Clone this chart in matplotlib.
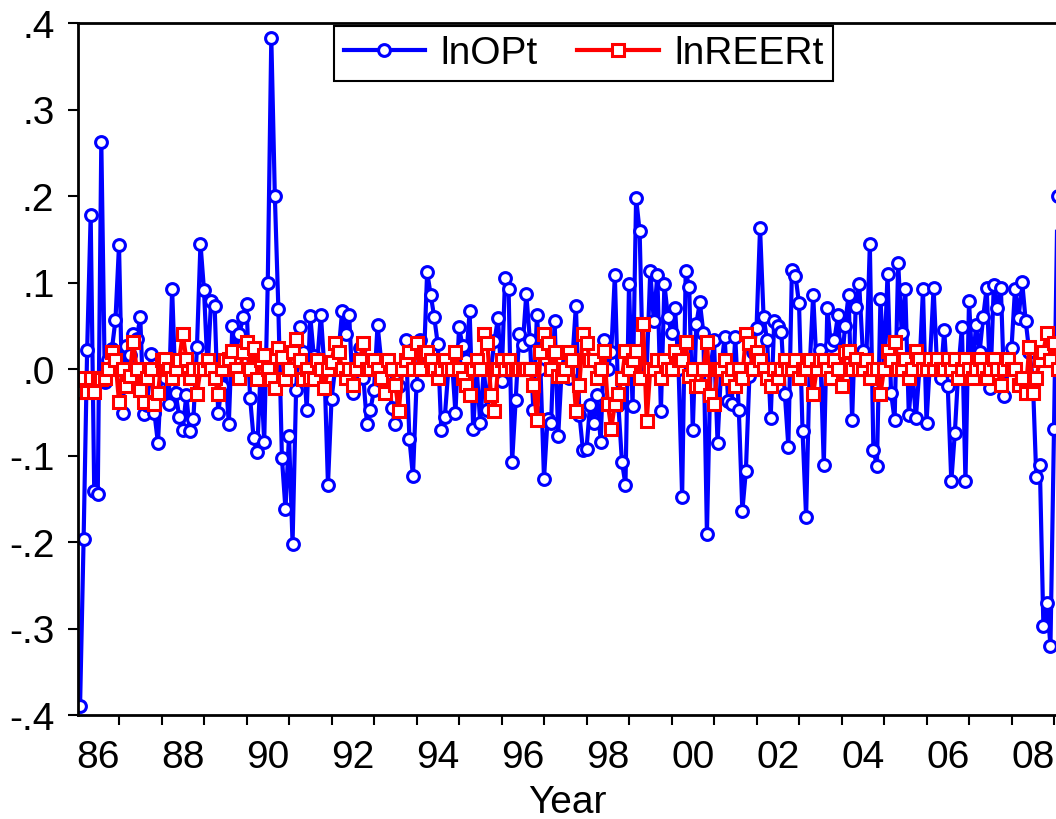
import numpy as np
import matplotlib.pyplot as plt

plt.rcParams['font.family'] = ['Liberation Sans', 'DejaVu Sans']

# Monthly log changes, first observation 1986M02
ln_op = [
  -0.39, -0.197, 0.022, 0.178, -0.141, -0.145, 0.263, -0.015, 0.01, 0.023, 0.057,
  0.143, -0.051, 0.027, 0.016, 0.04, 0.035, 0.06, -0.052, -0.042, 0.017, -0.051, -0.086,
  0.0, -0.01, -0.041, 0.093, -0.028, -0.055, -0.07, -0.03, -0.072, -0.058, 0.025, 0.145,
  0.091, 0.0, 0.079, 0.073, -0.051, -0.02, 0.0, -0.064, 0.05, 0.02, 0.04, 0.06,
  0.075, -0.033, -0.08, -0.096, 0.0, -0.084, 0.10, 0.383, 0.2, 0.069, -0.103, -0.162,
  -0.077, -0.202, -0.024, 0.049, 0.02, -0.047, 0.061, 0.015, 0.01, 0.063, 0.0, -0.134,
  -0.035, 0.0, 0.02, 0.067, 0.04, 0.062, -0.028, 0.0, 0.024, -0.01, -0.064, -0.047,
  -0.024, 0.051, 0.01, -0.01, 0.0, -0.045, -0.064, -0.02, 0.0, 0.033, -0.081, -0.124,
  -0.018, 0.033, 0.0, 0.112, 0.086, 0.06, 0.029, -0.071, -0.055, 0.0, 0.01, -0.051,
  0.048, 0.027, 0.01, 0.067, -0.069, 0.0, -0.063, 0.0, -0.047, 0.0, 0.032, 0.059,
  -0.014, 0.105, 0.093, -0.107, -0.036, 0.04, 0.028, 0.087, 0.034, -0.047, 0.063, 0.0,
  -0.127, -0.058, -0.063, 0.056, -0.078, 0.0, 0.02, -0.01, 0.01, 0.073, -0.053, -0.094,
  -0.092, -0.042, -0.063, -0.03, -0.084, 0.033, 0.0, 0.02, 0.109, -0.042, -0.107, -0.134,
  0.098, -0.043, 0.198, 0.159, -0.01, 0.0, 0.113, 0.056, 0.109, -0.049, 0.098, 0.06,
  0.042, 0.071, 0.0, -0.148, 0.113, 0.095, -0.07, 0.052, 0.077, 0.042, -0.191, 0.0,
  0.033, -0.085, 0.0, 0.037, -0.037, -0.04, 0.037, -0.047, -0.164, -0.118, -0.008, 0.02,
  0.047, 0.163, 0.06, 0.033, -0.057, 0.055, 0.05, 0.043, -0.029, -0.09, 0.115, 0.108,
  0.076, -0.072, -0.171, 0.0, 0.086, 0.0, 0.022, -0.111, 0.071, 0.028, 0.034, 0.062,
  0.0, 0.05, 0.086, -0.059, 0.072, 0.098, 0.021, 0.01, 0.144, -0.094, -0.112, 0.081,
  0.0, 0.11, -0.028, -0.059, 0.123, 0.042, 0.093, -0.053, 0.0, -0.057, 0.0, 0.092,
  -0.062, 0.01, 0.094, 0.0, -0.01, 0.045, -0.02, -0.13, -0.074, 0.0, 0.048, -0.13,
  0.079, 0.0, 0.051, 0.02, 0.06, 0.094, -0.022, 0.097, 0.07, 0.094, -0.031, 0.0,
  0.024, 0.093, 0.059, 0.101, 0.056, 0.02, -0.01, -0.125, -0.111, -0.297, -0.27, -0.32,
  -0.069, 0.2,
]

ln_reer = [
  -0.027, -0.01, -0.027, -0.01, -0.027, -0.01, -0.012, -0.01, 0.0, 0.02, 0.01,
  -0.038, 0.0, -0.02, -0.008, 0.031, 0.0, -0.024, -0.038, -0.01, 0.0, -0.04, -0.028,
  0.01, 0.011, 0.0, -0.01, 0.0, 0.01, 0.041, 0.011, -0.01, 0.0, -0.029, 0.0,
  0.0, 0.01, 0.0, -0.01, -0.029, 0.0, 0.01, 0.011, 0.021, 0.0, -0.01, 0.02,
  0.031, 0.0, 0.024, -0.012, 0.01, 0.016, 0.0, -0.012, -0.022, 0.024, 0.014, -0.012,
  0.0, 0.02, 0.035, 0.01, -0.012, 0.0, -0.01, -0.012, 0.01, 0.0, -0.022, 0.0,
  0.008, 0.03, 0.02, 0.0, -0.01, 0.0, -0.018, 0.0, 0.01, 0.03, 0.0, 0.0,
  0.01, 0.0, -0.01, -0.028, 0.01, 0.0, -0.018, -0.049, 0.0, 0.01, 0.02, 0.0,
  0.03, 0.0, 0.02, 0.02, 0.01, 0.0, -0.01, 0.0, 0.01, 0.0, 0.0, 0.02,
  0.0, -0.01, -0.018, -0.03, 0.0, 0.01, 0.0, 0.04, 0.03, -0.03, -0.049, 0.0,
  0.01, 0.0, 0.01, 0.0, 0.0, 0.0, 0.0, 0.0, 0.0, -0.018, -0.059, 0.02,
  0.04, 0.03, 0.0, 0.02, -0.008, -0.008, 0.0, 0.02, 0.01, -0.049, -0.018, 0.04,
  0.03, 0.01, 0.01, -0.01, 0.0, 0.021, -0.04, -0.069, -0.04, -0.029, -0.01, 0.021,
  0.0, 0.01, 0.021, -0.01, 0.052, -0.06, 0.0, 0.0, 0.01, -0.01, 0.01, 0.0,
  0.0, 0.021, 0.01, 0.01, 0.031, -0.008, 0.0, -0.02, -0.02, 0.0, 0.031, -0.03,
  -0.04, 0.0, 0.0, 0.01, -0.01, 0.0, -0.02, 0.0, -0.01, 0.04, 0.03, 0.0,
  0.02, 0.01, 0.0, -0.01, -0.02, 0.0, -0.01, 0.0, 0.01, 0.0, 0.0, 0.01,
  -0.01, 0.0, 0.0, 0.01, -0.029, 0.0, 0.01, 0.01, 0.0, -0.01, 0.01, 0.0,
  -0.02, 0.02, 0.021, 0.0, 0.011, 0.0, 0.0, 0.01, -0.01, 0.0, 0.0, -0.029,
  0.0, 0.021, 0.01, 0.031, 0.0, 0.0, 0.011, -0.01, 0.0, 0.021, 0.011, 0.0,
  0.0, 0.011, 0.0, 0.011, 0.0, 0.0, 0.011, 0.0, 0.011, -0.01, 0.0, 0.011,
  0.0, -0.01, 0.0, 0.011, 0.0, -0.01, 0.0, 0.011, 0.0, -0.018, 0.0, 0.011,
  0.0, 0.0, -0.018, -0.01, -0.028, 0.025, -0.028, -0.01, 0.01, 0.02, 0.042, 0.01,
  0.03, 0.0,
]

first_year = 1986
first_month = 2
label_years = list(range(1986, 2009, 2))
y_ticks = [-0.4, -0.3, -0.2, -0.1, 0.0, 0.1, 0.2, 0.3, 0.4]

# Decimal time of each observation
t = first_year + (first_month - 1 + np.arange(len(ln_op))) / 12.0


def fmt_tick(v):
  s = '%.1f' % v
  if s == '-0.0':
    s = '0.0'
  return s.replace('0.', '.', 1)


W, H = 1056, 820
fig = plt.figure(figsize=(W / 100.0, H / 100.0), dpi=100)
ax = fig.add_axes([78.0 / W, (H - 716.0) / H, (W - 78.0) / W, (716.0 - 24.0) / H])

ax.plot(t, ln_op, color='#0000ff', lw=3.0, marker='o', ms=8.5,
  mfc='white', mec='#0000ff', mew=2.2, label='lnOPt')
ax.plot(t, ln_reer, color='#ff0000', lw=3.0, marker='s', ms=8.5,
  mfc='white', mec='#ff0000', mew=2.2, label='lnREERt')

ax.set_xlim(1986.035, 2009.047)
ax.set_ylim(-0.4, 0.4)

ax.set_yticks(y_ticks)
ax.set_yticklabels([fmt_tick(v) for v in y_ticks])

# year boundaries as tick marks, labels centred in the year
ax.set_xticks(np.arange(1987, 2010), minor=True)
ax.set_xticks([y + 0.5 for y in label_years])
ax.set_xticklabels(['%02d' % (y % 100) for y in label_years])
ax.tick_params(axis='x', which='major', length=0, pad=17, labelsize=28)
ax.tick_params(axis='x', which='minor', length=7, width=1.5, direction='out')
ax.tick_params(axis='y', length=7, width=1.5, direction='out', pad=10, labelsize=28)

for side in ['left', 'bottom', 'top']:
  ax.spines[side].set_linewidth(2.0)
ax.spines['right'].set_visible(False)

ax.set_xlabel('Year', fontsize=28, labelpad=7)

leg = ax.legend(loc='upper center', bbox_to_anchor=(0.517, 0.996), ncol=2,
  fontsize=28, frameon=True, fancybox=False, framealpha=1.0,
  handlelength=2.1, columnspacing=1.0, handletextpad=0.4, borderpad=0.25,
  borderaxespad=0.0)
leg.get_frame().set_edgecolor('black')
leg.get_frame().set_linewidth(1.5)

plt.savefig('out.png', dpi=100)
